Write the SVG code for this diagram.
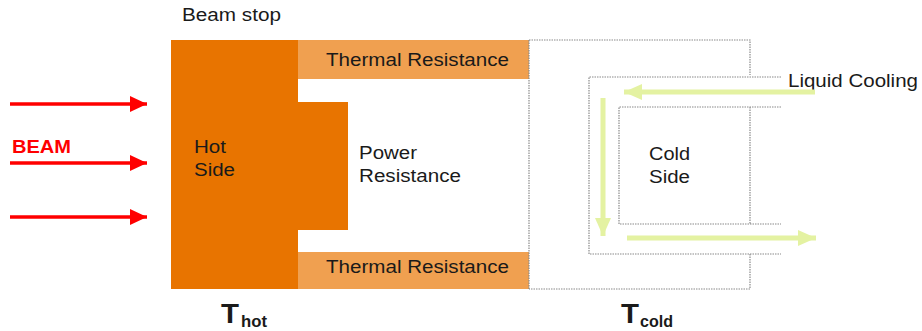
<svg xmlns="http://www.w3.org/2000/svg" width="922" height="331" viewBox="0 0 922 331">
<style>
text{font-family:"Liberation Sans",Arial,sans-serif;fill:#1a1a1a}
.lbl{font-size:17.5px}
.dot{fill:none;stroke:#8a8a8a;stroke-width:1.2;stroke-dasharray:1.5 1}
.red{stroke:#ff0000;stroke-width:3.5;fill:none}
.grn{stroke:#e4f2a2;stroke-width:5;fill:none}
.bold{font-weight:bold}
</style>
<defs>
<marker id="ar" markerUnits="userSpaceOnUse" markerWidth="18" markerHeight="16" refX="17" refY="8" orient="auto"><path d="M0,0 L17,8 L0,16 Z" fill="#ff0000"/></marker>
<marker id="ag" markerUnits="userSpaceOnUse" markerWidth="19" markerHeight="16" refX="18" refY="8" orient="auto"><path d="M0,0 L18,8 L0,16 Z" fill="#e4f2a2"/></marker>
</defs>
<rect width="922" height="331" fill="#ffffff"/>
<g id="beamstop">
<text class="lbl" x="182" y="21" textLength="99" lengthAdjust="spacingAndGlyphs">Beam stop</text>
</g>
<g id="outer-box">
<path class="dot" d="M529,40 H750 V75 M750,254 V289 H529"/>
</g>
<g id="hot-side">
<path d="M171,40 H298 V102 H348 V230 H298 V289 H171 Z" fill="#e87400"/>
<text class="lbl" x="194" y="153" textLength="32" lengthAdjust="spacingAndGlyphs">Hot</text>
<text class="lbl" x="194" y="176" textLength="41" lengthAdjust="spacingAndGlyphs">Side</text>
</g>
<g id="thermal-top">
<rect x="298" y="40" width="231" height="39" fill="#f0a050"/>
<text class="lbl" x="326" y="66" textLength="183" lengthAdjust="spacingAndGlyphs">Thermal Resistance</text>
</g>
<g id="thermal-bottom">
<rect x="298" y="252" width="231" height="37" fill="#f0a050"/>
<text class="lbl" x="326" y="273" textLength="183" lengthAdjust="spacingAndGlyphs">Thermal Resistance</text>
</g>
<g id="power-resistance">
<line class="dot" x1="529" y1="40" x2="529" y2="289"/>
<text class="lbl" x="359" y="159" textLength="58" lengthAdjust="spacingAndGlyphs">Power</text>
<text class="lbl" x="359" y="182" textLength="102" lengthAdjust="spacingAndGlyphs">Resistance</text>
</g>
<g id="cooling-channel">
<path class="dot" d="M781,77 H589 V254 H781"/>
</g>
<g id="cold-side">
<path class="dot" d="M781,107 H619 V224 H781 M750,107 V224"/>
<text class="lbl" x="649" y="160" textLength="41" lengthAdjust="spacingAndGlyphs">Cold</text>
<text class="lbl" x="649" y="183" textLength="41" lengthAdjust="spacingAndGlyphs">Side</text>
</g>
<g id="liquid-cooling">
<text class="lbl" x="788" y="87" textLength="130" lengthAdjust="spacingAndGlyphs">Liquid Cooling</text>
</g>
<g id="connectors">
<line class="red" x1="10" y1="104" x2="147" y2="104" marker-end="url(#ar)"/>
<line class="red" x1="10" y1="163" x2="147" y2="163" marker-end="url(#ar)"/>
<line class="red" x1="10" y1="217" x2="147" y2="217" marker-end="url(#ar)"/>
<line class="grn" x1="815" y1="92" x2="624" y2="92" marker-end="url(#ag)"/>
<line class="grn" x1="603" y1="98" x2="603" y2="236" marker-end="url(#ag)"/>
<line class="grn" x1="627" y1="238" x2="816" y2="238" marker-end="url(#ag)"/>
</g>
<g id="beam-label">
<text x="12" y="153" class="bold" style="font-size:18px;fill:#ff0000" textLength="59" lengthAdjust="spacingAndGlyphs">BEAM</text>
</g>
<g id="t-hot">
<text x="221" y="323" class="bold" style="font-size:28px" textLength="18" lengthAdjust="spacingAndGlyphs">T</text>
<text x="241" y="327" class="bold" style="font-size:17px" textLength="26" lengthAdjust="spacingAndGlyphs">hot</text>
</g>
<g id="t-cold">
<text x="621" y="323" class="bold" style="font-size:28px" textLength="18" lengthAdjust="spacingAndGlyphs">T</text>
<text x="640" y="327" class="bold" style="font-size:17px" textLength="33" lengthAdjust="spacingAndGlyphs">cold</text>
</g>
</svg>
